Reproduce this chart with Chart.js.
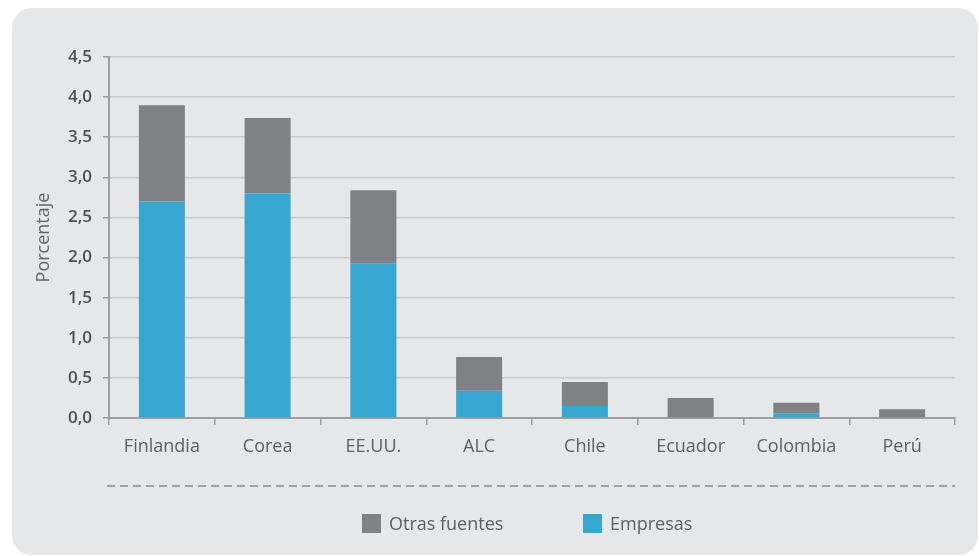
<!DOCTYPE html>
<html>
<head>
<meta charset="utf-8">
<script src="https://cdn.jsdelivr.net/npm/chart.js@4/dist/chart.umd.min.js"></script>
<style>
  html, body { margin: 0; padding: 0; background: #ffffff; }
  #panel {
    position: absolute; left: 12px; top: 8px; width: 966px; height: 547px;
    background: #e6e7e9; border-radius: 20px;
  }
  #wrap { position: absolute; left: 0; top: 0; width: 979px; height: 556px; }
</style>
</head>
<body>
<div id="panel"></div>
<div id="wrap"><canvas id="canvas_bar_graph" width="979" height="556"></canvas></div>
<script>
var categories = ['Finlandia', 'Corea', 'EE.UU.', 'ALC', 'Chile', 'Ecuador', 'Colombia', 'Perú'];
var empresas = [2.7, 2.8, 1.93, 0.34, 0.15, 0.01, 0.06, 0.01];
var otrasFuentes = [1.2, 0.94, 0.91, 0.42, 0.30, 0.24, 0.13, 0.10];
var yTicks = [0, 0.5, 1, 1.5, 2, 2.5, 3, 3.5, 4, 4.5];

var FONT = '"Open Sans", sans-serif';
var AXIS = '#9d9ea0';

// dashed separator + legend under the x axis
var footer = {
    id: 'footer',
    afterDraw: function(chart){
        var ctx = chart.ctx;
        var area = chart.chartArea;
        ctx.save();
        ctx.strokeStyle = '#88898b';
        ctx.lineWidth = 1.5;
        ctx.setLineDash([8, 5]);
        ctx.beginPath();
        ctx.moveTo(area.left - 2, 486);
        ctx.lineTo(area.right, 486);
        ctx.stroke();
        ctx.setLineDash([]);

        ctx.font = '18px ' + FONT;
        ctx.textBaseline = 'middle';
        var items = chart.data.datasets.slice().reverse();
        var xs = [362, 583];
        items.forEach(function(ds, i){
            ctx.fillStyle = ds.backgroundColor;
            ctx.fillRect(xs[i], 514, 19, 19);
            ctx.fillStyle = '#5d5e60';
            ctx.fillText(ds.label, xs[i] + 27, 525);
        });
        ctx.restore();
    }
};

var ctx = document.getElementById('canvas_bar_graph').getContext('2d');
var myChart = new Chart(ctx, {
    type: 'bar',
    data: {
        labels: categories,
        datasets: [{
            label: 'Empresas',
            data: empresas,
            backgroundColor: '#35a7d0',
            barPercentage: 0.435,
            categoryPercentage: 1
        }, {
            label: 'Otras fuentes',
            data: otrasFuentes,
            backgroundColor: '#808184',
            barPercentage: 0.435,
            categoryPercentage: 1
        }]
    },
    options: {
        responsive: false,
        animation: false,
        layout: { padding: { left: 0, right: 24, top: 57, bottom: 78 } },
        plugins: {
            legend: { display: false },
            tooltip: { enabled: false }
        },
        scales: {
            x: {
                stacked: true,
                afterFit: function(scale){ scale.height = 60; },
                grid: { drawOnChartArea: false, drawTicks: true, tickLength: 7, tickColor: AXIS, lineWidth: 1.5, offset: true },
                border: { color: AXIS, width: 2 },
                ticks: { color: '#5d5e60', font: { family: FONT, size: 18 }, padding: 11 }
            },
            y: {
                stacked: true,
                min: 0,
                max: 4.5,
                afterFit: function(scale){ scale.width = 109; },
                afterBuildTicks: function(scale){
                    scale.ticks = yTicks.map(function(v){ return { value: v }; });
                },
                grid: { color: '#c7c8ca', lineWidth: 1.5, tickLength: 6, tickColor: AXIS },
                border: { color: AXIS, width: 2 },
                ticks: {
                    color: '#4e4f51',
                    font: { family: FONT, size: 17, weight: '600' },
                    padding: 11,
                    callback: function(v){ return Number(v).toFixed(1).replace('.', ','); }
                },
                title: {
                    display: true,
                    text: 'Porcentaje',
                    color: '#636466',
                    font: { family: FONT, size: 18 },
                    padding: { top: 33, bottom: 0 }
                }
            }
        }
    },
    plugins: [footer]
});
</script>
</body>
</html>
